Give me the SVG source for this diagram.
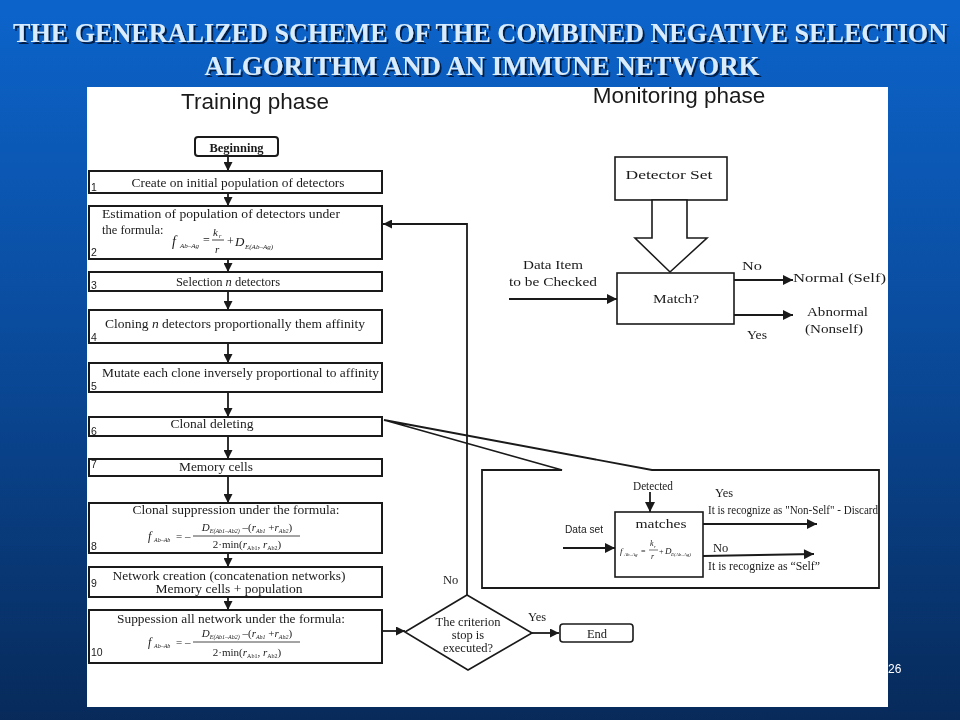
<svg xmlns="http://www.w3.org/2000/svg" width="960" height="720" viewBox="0 0 960 720">
<defs>
<linearGradient id="bg" x1="0" y1="0" x2="0" y2="1">
<stop offset="0" stop-color="#0c64cb"/>
<stop offset="0.45" stop-color="#0a4c9e"/>
<stop offset="1" stop-color="#072a5a"/>
</linearGradient>
<filter id="sh" x="-3%" y="-30%" width="106%" height="160%">
<feDropShadow dx="2" dy="2" stdDeviation="0.6" flood-color="#04183a" flood-opacity="0.9"/>
</filter>
<marker id="ah" viewBox="0 0 10 10" refX="10" refY="5" markerWidth="9" markerHeight="9" markerUnits="userSpaceOnUse" orient="auto">
<path d="M0,0 L10,5 L0,10 Z" fill="#1a1a1a"/>
</marker>
<marker id="ahs" viewBox="0 0 10 10" refX="10" refY="5" markerWidth="12" markerHeight="10" markerUnits="userSpaceOnUse" orient="auto">
<path d="M0,0 L10,5 L0,10 Z" fill="#1a1a1a"/>
</marker>
</defs>
<style>
.bx{fill:#fff;stroke:#1a1a1a;stroke-width:2}
.bt{fill:#fff;stroke:#1a1a1a;stroke-width:1.6}
.ln{fill:none;stroke:#1a1a1a;stroke-width:1.8}
.ar{fill:none;stroke:#1a1a1a;stroke-width:1.8;marker-end:url(#ah)}
.ar2{fill:none;stroke:#1a1a1a;stroke-width:1.8;marker-end:url(#ahs)}
.t{font-family:"Liberation Serif","Times New Roman",serif;font-size:12.5px;fill:#1a1a1a}
.tc{text-anchor:middle}
.num{font-family:"Liberation Sans",Arial,sans-serif;font-size:10.5px;fill:#1a1a1a}
.ph{font-family:"Liberation Sans",Arial,sans-serif;font-size:22.5px;fill:#1a1a1a}
.fi{font-family:"Liberation Serif","Times New Roman",serif;font-style:italic;fill:#1a1a1a}
.fn{font-style:normal}
.ttl{font-family:"Liberation Serif","Times New Roman",serif;font-weight:bold;font-size:23px;fill:#d8ecfd}
.pg{font-family:"Liberation Sans",Arial,sans-serif;font-size:12px;fill:#ffffff}
</style>
<rect x="0" y="0" width="960" height="720" fill="url(#bg)"/>
<g id="title" filter="url(#sh)">
<text class="ttl" transform="translate(480 42) scale(1 1.17)" x="0" y="0" text-anchor="middle" textLength="934" lengthAdjust="spacingAndGlyphs">THE GENERALIZED SCHEME OF THE COMBINED NEGATIVE SELECTION</text>
<text class="ttl" transform="translate(482 75) scale(1 1.17)" x="0" y="0" text-anchor="middle" textLength="555" lengthAdjust="spacingAndGlyphs">ALGORITHM AND AN IMMUNE NETWORK</text>
</g>
<text class="pg" x="888" y="673">26</text>
<rect id="panel" x="87" y="87" width="801" height="620" fill="#ffffff"/>
<text class="ph" x="255" y="109" text-anchor="middle">Training phase</text>
<text class="ph" x="679" y="103" text-anchor="middle">Monitoring phase</text>

<g id="connectors">
<line class="ar" x1="228" y1="157" x2="228" y2="171"/>
<line class="ar" x1="228" y1="194" x2="228" y2="206"/>
<line class="ar" x1="228" y1="260" x2="228" y2="272"/>
<line class="ar" x1="228" y1="292" x2="228" y2="310"/>
<line class="ar" x1="228" y1="344" x2="228" y2="363"/>
<line class="ar" x1="228" y1="393" x2="228" y2="417"/>
<line class="ar" x1="228" y1="437" x2="228" y2="459"/>
<line class="ar" x1="228" y1="477" x2="228" y2="503"/>
<line class="ar" x1="228" y1="554" x2="228" y2="567"/>
<line class="ar" x1="228" y1="598" x2="228" y2="610"/>
<line class="ar" x1="383" y1="631" x2="405" y2="631"/>
<polyline class="ar" points="467,595 467,224 383,224"/>
<line class="ar" x1="532" y1="633" x2="559" y2="633"/>
<line class="ar2" x1="509" y1="299" x2="617" y2="299"/>
<line class="ar2" x1="734" y1="280" x2="793" y2="280"/>
<line class="ar2" x1="734" y1="315" x2="793" y2="315"/>
<line class="ar2" x1="650" y1="492" x2="650" y2="512"/>
<line class="ar2" x1="563" y1="548" x2="615" y2="548"/>
<line class="ar2" x1="703" y1="524" x2="817" y2="524"/>
<line class="ar2" x1="703" y1="556" x2="814" y2="554"/>
</g>

<g id="n-begin">
<rect class="bx" x="195" y="137" width="83" height="19" rx="3"/>
<text class="t tc" x="236.5" y="151.5" font-weight="bold" font-size="13.5">Beginning</text>
</g>
<g id="n1">
<rect class="bx" x="89" y="171" width="293" height="22"/>
<text class="t tc" x="238" y="187" textLength="213" lengthAdjust="spacingAndGlyphs">Create on initial population of detectors</text>
<text class="num" x="91" y="191">1</text>
</g>
<g id="n2">
<rect class="bx" x="89" y="206" width="293" height="53"/>
<text class="t" x="102" y="218" textLength="238" lengthAdjust="spacingAndGlyphs">Estimation of population of detectors under</text>
<text class="t" x="102" y="234">the formula:</text>
<text class="fi" x="172" y="246" font-size="14">f</text>
<text class="fi" x="180" y="248" font-size="7">Ab–Ag</text>
<text class="fi fn" x="203" y="244" font-size="12">=</text>
<text class="fi" x="213" y="236" font-size="11">k</text>
<text class="fi" x="219" y="238" font-size="6">r</text>
<line x1="212" y1="240" x2="224" y2="240" stroke="#1a1a1a" stroke-width="0.8"/>
<text class="fi" x="215" y="253" font-size="11">r</text>
<text class="fi fn" x="227" y="245" font-size="12">+</text>
<text class="fi" x="235" y="246" font-size="13">D</text>
<text class="fi" x="245" y="249" font-size="7">E(Ab–Ag)</text>
<text class="num" x="91" y="256">2</text>
</g>
<g id="n3">
<rect class="bx" x="89" y="272" width="293" height="19"/>
<text class="t tc" x="228" y="286">Selection <tspan font-style="italic">n</tspan> detectors</text>
<text class="num" x="91" y="289">3</text>
</g>
<g id="n4">
<rect class="bx" x="89" y="310" width="293" height="33"/>
<text class="t tc" x="235" y="328" textLength="260" lengthAdjust="spacingAndGlyphs">Cloning <tspan font-style="italic">n</tspan> detectors proportionally them affinity</text>
<text class="num" x="91" y="341">4</text>
</g>
<g id="n5">
<rect class="bx" x="89" y="363" width="293" height="29"/>
<text class="t" x="102" y="377" textLength="277" lengthAdjust="spacingAndGlyphs">Mutate each clone inversely proportional to affinity</text>
<text class="num" x="91" y="390">5</text>
</g>
<g id="n6">
<rect class="bx" x="89" y="417" width="293" height="19"/>
<text class="t tc" x="212" y="428" textLength="83" lengthAdjust="spacingAndGlyphs">Clonal deleting</text>
<text class="num" x="91" y="435">6</text>
</g>
<g id="n7">
<rect class="bx" x="89" y="459" width="293" height="17"/>
<text class="t tc" x="216" y="471" textLength="74" lengthAdjust="spacingAndGlyphs">Memory cells</text>
<text class="num" x="91" y="468">7</text>
</g>
<g id="n8">
<rect class="bx" x="89" y="503" width="293" height="50"/>
<text class="t tc" x="236" y="514" textLength="207" lengthAdjust="spacingAndGlyphs">Clonal suppression under the formula:</text>
<text class="fi" x="148" y="540" font-size="12">f</text>
<text class="fi" x="154" y="542" font-size="6">Ab–Ab</text>
<text class="fi fn" x="176" y="540" font-size="11">= –</text>
<line x1="193" y1="536" x2="300" y2="536" stroke="#1a1a1a" stroke-width="0.8"/>
<text class="fi tc" x="247" y="531" font-size="11">D<tspan font-size="6" dy="2">E(Ab1–Ab2)</tspan><tspan class="fn" dy="-2"> –(</tspan>r<tspan font-size="6" dy="2">Ab1</tspan><tspan class="fn" dy="-2"> +</tspan>r<tspan font-size="6" dy="2">Ab2</tspan><tspan class="fn" dy="-2">)</tspan></text>
<text class="fi tc fn" x="247" y="548" font-size="11">2·min(<tspan font-style="italic">r</tspan><tspan font-size="6" dy="2">Ab1</tspan><tspan dy="-2">, </tspan><tspan font-style="italic">r</tspan><tspan font-size="6" dy="2">Ab2</tspan><tspan dy="-2">)</tspan></text>
<text class="num" x="91" y="550">8</text>
</g>
<g id="n9">
<rect class="bx" x="89" y="567" width="293" height="30"/>
<text class="t tc" x="229" y="580" font-size="11.5" textLength="233" lengthAdjust="spacingAndGlyphs">Network creation (concatenation networks)</text>
<text class="t tc" x="229" y="593" font-size="11.5" textLength="147" lengthAdjust="spacingAndGlyphs">Memory cells + population</text>
<text class="num" x="91" y="587">9</text>
</g>
<g id="n10">
<rect class="bx" x="89" y="610" width="293" height="53"/>
<text class="t tc" x="231" y="623" textLength="228" lengthAdjust="spacingAndGlyphs">Suppession all network under the formula:</text>
<text class="fi" x="148" y="646" font-size="12">f</text>
<text class="fi" x="154" y="648" font-size="6">Ab–Ab</text>
<text class="fi fn" x="176" y="646" font-size="11">= –</text>
<line x1="193" y1="642" x2="300" y2="642" stroke="#1a1a1a" stroke-width="0.8"/>
<text class="fi tc" x="247" y="637" font-size="11">D<tspan font-size="6" dy="2">E(Ab1–Ab2)</tspan><tspan class="fn" dy="-2"> –(</tspan>r<tspan font-size="6" dy="2">Ab1</tspan><tspan class="fn" dy="-2"> +</tspan>r<tspan font-size="6" dy="2">Ab2</tspan><tspan class="fn" dy="-2">)</tspan></text>
<text class="fi tc fn" x="247" y="656" font-size="11">2·min(<tspan font-style="italic">r</tspan><tspan font-size="6" dy="2">Ab1</tspan><tspan dy="-2">, </tspan><tspan font-style="italic">r</tspan><tspan font-size="6" dy="2">Ab2</tspan><tspan dy="-2">)</tspan></text>
<text class="num" x="91" y="656">10</text>
</g>
<g id="n-criterion">
<polygon class="bt" points="405,632 467,595 532,633 468,670"/>
<text class="t tc" x="468" y="626" font-size="10.5">The criterion</text>
<text class="t tc" x="468" y="639" font-size="10.5">stop is</text>
<text class="t tc" x="468" y="652" font-size="10.5">executed?</text>
<text class="t" x="443" y="584" font-size="12.5">No</text>
<text class="t" x="528" y="621" font-size="12.5">Yes</text>
</g>
<g id="n-end">
<rect class="bt" x="560" y="624" width="73" height="18" rx="3"/>
<text class="t tc" x="597" y="638" font-size="13">End</text>
</g>

<g id="n-detector-set">
<rect class="bt" x="615" y="157" width="112" height="43"/>
<text class="t tc" x="669" y="179" font-size="16.5" textLength="87" lengthAdjust="spacingAndGlyphs">Detector Set</text>
<polygon class="bt" points="652,200 687,200 687,238 707,238 670,272 635,238 652,238"/>
</g>
<g id="n-match">
<rect class="bt" x="617" y="273" width="117" height="51"/>
<text class="t tc" x="676" y="303" font-size="15" textLength="46" lengthAdjust="spacingAndGlyphs">Match?</text>
<text class="t tc" x="553" y="269" font-size="15.5" textLength="60" lengthAdjust="spacingAndGlyphs">Data Item</text>
<text class="t tc" x="553" y="286" font-size="15.5" textLength="88" lengthAdjust="spacingAndGlyphs">to be Checked</text>
<text class="t" x="742" y="270" font-size="15" textLength="20" lengthAdjust="spacingAndGlyphs">No</text>
<text class="t" x="793" y="282" font-size="15.5" textLength="93" lengthAdjust="spacingAndGlyphs">Normal (Self)</text>
<text class="t" x="807" y="316" font-size="15" textLength="61" lengthAdjust="spacingAndGlyphs">Abnormal</text>
<text class="t" x="805" y="333" font-size="15" textLength="58" lengthAdjust="spacingAndGlyphs">(Nonself)</text>
<text class="t" x="747" y="339" font-size="14.5" textLength="20" lengthAdjust="spacingAndGlyphs">Yes</text>
</g>

<g id="n-inset">
<path class="ln" d="M562,470 L384,420 L652,470 L879,470 L879,588 L482,588 L482,470 Z" stroke-linejoin="miter"/>
<text class="t tc" x="653" y="490" font-size="11.5" textLength="40" lengthAdjust="spacingAndGlyphs">Detected</text>
<text class="num" x="584" y="533" text-anchor="middle" font-size="11" textLength="38" lengthAdjust="spacingAndGlyphs">Data set</text>
<rect class="bt" x="615" y="512" width="88" height="65"/>
<text class="t tc" x="661" y="528" font-size="16" textLength="51" lengthAdjust="spacingAndGlyphs">matches</text>
<text class="fi" x="620" y="554" font-size="9">f</text>
<text class="fi" x="624" y="556" font-size="5">Ab–Ag</text>
<text class="fi fn" x="641" y="554" font-size="8">=</text>
<text class="fi" x="650" y="546" font-size="8">k</text>
<text class="fi" x="654" y="548" font-size="5">r</text>
<line x1="649" y1="550" x2="658" y2="550" stroke="#1a1a1a" stroke-width="0.6"/>
<text class="fi" x="651" y="559" font-size="8">r</text>
<text class="fi fn" x="659" y="554" font-size="8">+</text>
<text class="fi" x="665" y="554" font-size="9">D</text>
<text class="fi" x="671" y="556" font-size="5">E(Ab–Ag)</text>
<text class="t" x="715" y="497" font-size="11.5">Yes</text>
<text class="t" x="708" y="514" font-size="12" textLength="170" lengthAdjust="spacingAndGlyphs">It is recognize as "Non-Self" - Discard</text>
<text class="t" x="713" y="552" font-size="11.5">No</text>
<text class="t" x="708" y="570" font-size="12" textLength="112" lengthAdjust="spacingAndGlyphs">It is recognize as “Self”</text>
</g>
</svg>
